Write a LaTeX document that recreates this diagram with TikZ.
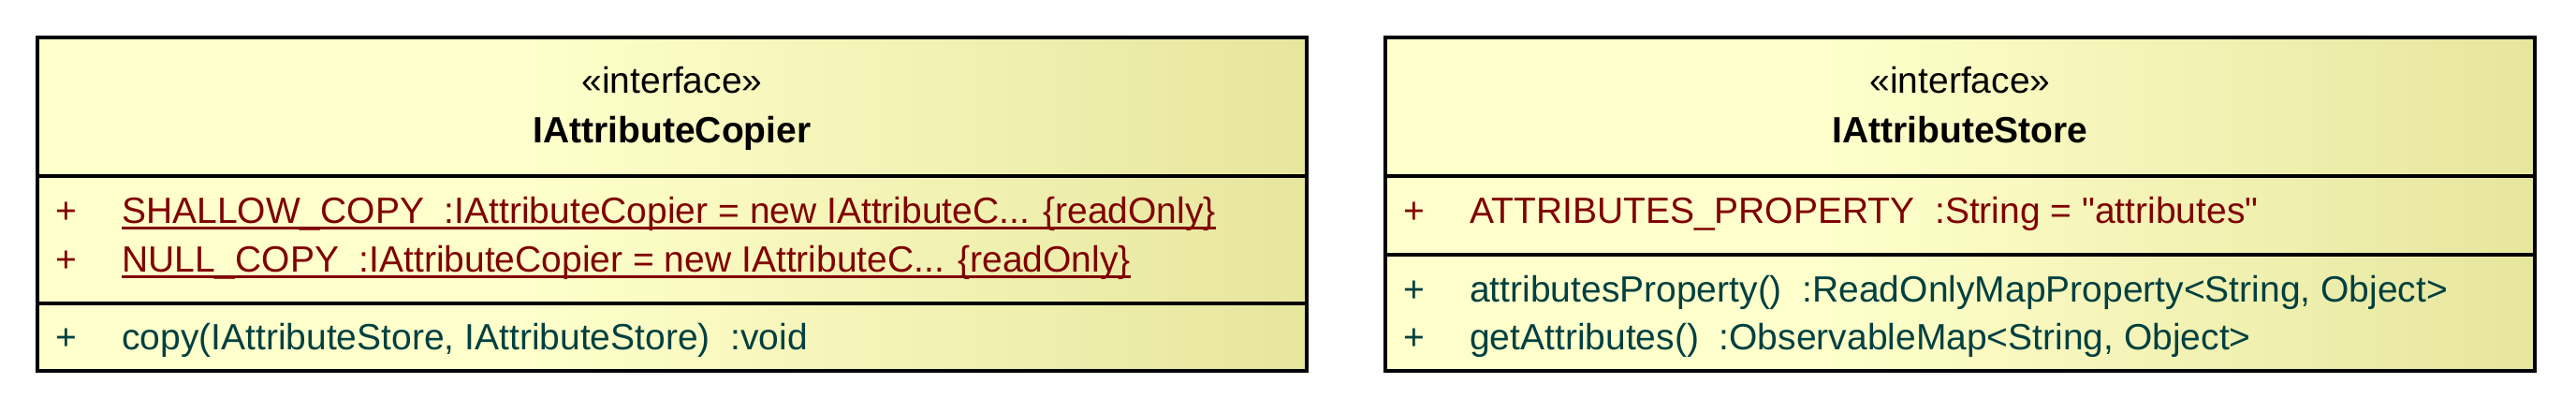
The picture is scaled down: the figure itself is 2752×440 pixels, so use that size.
\documentclass[tikz,border=0pt]{standalone}
\usepackage{fontspec}
\setmainfont{Liberation Sans}[Ligatures=TeXOff]
\usetikzlibrary{positioning}

\definecolor{umllight}{RGB}{255,255,204}
\definecolor{umldark}{RGB}{230,230,158}
\definecolor{attrcol}{RGB}{128,0,0}
\definecolor{opcol}{RGB}{0,64,64}

\pgfdeclarehorizontalshading{umlfill}{100bp}{color(0bp)=(umllight); color(25bp)=(umllight); color(44bp)=(umllight); color(75bp)=(umldark); color(100bp)=(umldark)}

\begin{document}
\begin{tikzpicture}[x=1pt,y=-1pt,
  umlbox/.style={draw=black,line width=4pt,shading=umlfill,outer sep=0pt,inner sep=0pt,anchor=north west},
  sepline/.style={draw=black,line width=4pt},
  txt/.style={inner sep=0pt,font=\fontsize{39}{46}\selectfont},
  stereo/.style={txt,anchor=base},
  classname/.style={txt,anchor=base,font=\fontsize{39}{46}\selectfont\bfseries},
  vis/.style={txt,anchor=base},
  attr/.style={txt,anchor=base west,text=attrcol},
  oper/.style={txt,anchor=base west,text=opcol},
  static/.style={draw=attrcol,line width=3pt}]

\useasboundingbox (0,0) rectangle (2752,440);

% IAttributeCopier
\node[umlbox,minimum width=1356pt,minimum height=356pt] (copier) at (40,40) {};
\draw[sepline] ([yshift=-148pt]copier.north west) -- ([yshift=-148pt]copier.north east);
\draw[sepline] ([yshift=-284pt]copier.north west) -- ([yshift=-284pt]copier.north east);

\node[stereo]    (cpStereo) at ([yshift=-59pt]copier.north)  {«interface»};
\node[classname] (cpName)   at ([yshift=-112pt]copier.north) {IAttributeCopier};

\node[vis,text=attrcol] (cpVisA) at ([xshift=31pt,yshift=-198pt]copier.north west) {+};
\node[attr] (cpShallow) at ([xshift=90pt,yshift=-198pt]copier.north west) {SHALLOW\_COPY\ \ :IAttributeCopier = new IAttributeC... \{readOnly\}};
\node[vis,text=attrcol] (cpVisB) at ([yshift=-52pt]cpVisA.base) {+};
\node[attr] (cpNull) at ([yshift=-52pt]cpShallow.base west) {NULL\_COPY\ \ :IAttributeCopier = new IAttributeC... \{readOnly\}};
\draw[static] ([yshift=-5pt]cpShallow.base west) -- ([yshift=-5pt]cpShallow.base east);
\draw[static] ([yshift=-5pt]cpNull.base west) -- ([yshift=-5pt]cpNull.base east);

\node[vis,text=opcol] (cpVisC) at ([xshift=31pt,yshift=-333pt]copier.north west) {+};
\node[oper] (cpCopy) at ([xshift=90pt,yshift=-333pt]copier.north west) {copy(IAttributeStore, IAttributeStore)\ \ :void};

% IAttributeStore
\node[umlbox,minimum width=1228pt,minimum height=356pt] (store) at (1480,40) {};
\draw[sepline] ([yshift=-148pt]store.north west) -- ([yshift=-148pt]store.north east);
\draw[sepline] ([yshift=-232pt]store.north west) -- ([yshift=-232pt]store.north east);

\node[stereo]    (stStereo) at ([yshift=-59pt]store.north)  {«interface»};
\node[classname] (stName)   at ([yshift=-112pt]store.north) {IAttributeStore};

\node[vis,text=attrcol] (stVisA) at ([xshift=31pt,yshift=-198pt]store.north west) {+};
\node[attr] (stProp) at ([xshift=90pt,yshift=-198pt]store.north west) {ATTRIBUTES\_PROPERTY\ \ :String = "attributes"};

\node[vis,text=opcol] (stVisB) at ([xshift=31pt,yshift=-282pt]store.north west) {+};
\node[oper] (stPropOp) at ([xshift=90pt,yshift=-282pt]store.north west) {attributesProperty()\ \ :ReadOnlyMapProperty<String, Object>};
\node[vis,text=opcol] (stVisC) at ([yshift=-51pt]stVisB.base) {+};
\node[oper] (stGet) at ([yshift=-51pt]stPropOp.base west) {getAttributes()\ \ :ObservableMap<String, Object>};

\end{tikzpicture}
\end{document}
